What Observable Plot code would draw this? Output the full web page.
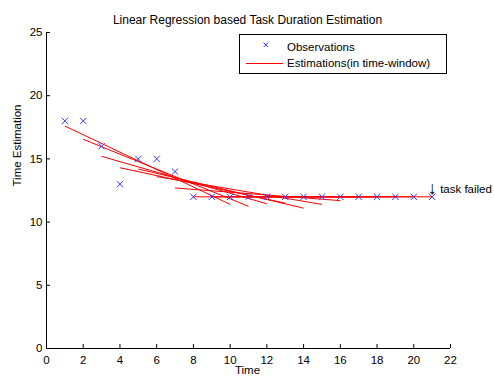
<!DOCTYPE html>
<html>
<head>
<meta charset="utf-8">
<script src="https://cdn.jsdelivr.net/npm/d3@7"></script>
<script src="https://cdn.jsdelivr.net/npm/@observablehq/plot@0.6"></script>
<style>
  body { margin: 0; background: #fff; }
  #wrap { position: relative; width: 494px; height: 378px; font-family: "Liberation Sans", Arial, sans-serif; }
  #legend { position: absolute; left: 239px; top: 34px; width: 206px; height: 38px; border: 1px solid #000; background: #fff; }
  #legend svg { display: block; }
</style>
</head>
<body>
<div id="wrap"></div>
<script>
// Observations
const obsTime  = [1, 2, 3, 4, 5, 6, 7, 8, 9, 10, 11, 12, 13, 14, 15, 16, 17, 18, 19, 20, 21];
const obsValue = [18, 18, 16, 13, 15, 15, 14, 12, 12, 12, 12, 12, 12, 12, 12, 12, 12, 12, 12, 12, 12];

// Estimations (regression lines over time windows): start/end time and value
const segStartTime  = [1, 2, 3, 4, 5, 6, 7, 8, 9, 10, 11, 12];
const segEndTime    = [10, 11, 12, 13, 14, 15, 16, 17, 18, 19, 20, 21];
const segStartValue = [17.6, 16.55, 15.2, 14.3, 14.2, 13.6, 12.7, 12, 12, 12, 12, 12];
const segEndValue   = [11.4, 11.25, 11.45, 11.5, 11.1, 11.4, 11.7, 12, 12, 12, 12, 12];

// Ticks
const xTicks = [0, 2, 4, 6, 8, 10, 12, 14, 16, 18, 20, 22];
const yTicks = [0, 5, 10, 15, 20, 25];

// Texts
const titleText = "Linear Regression based Task Duration Estimation";
const xLabel = "Time";
const yLabel = "Time Estimation";
const legendLabels = ["Observations", "Estimations(in time-window)"];
const annotation = [{time: 21, value: 12.6, text: "task failed"}];

const obs = obsTime.map((t, i) => ({time: t, value: obsValue[i]}));
const segs = segStartTime.map((t, i) => ({x1: t, x2: segEndTime[i], y1: segStartValue[i], y2: segEndValue[i]}));

const W = 494, H = 378, mL = 46, mR = 44, mT = 32, mB = 30;
const font = "Liberation Sans, Arial, sans-serif";
const markerBlue = "#3a3aff";

const chart = Plot.plot({
  width: W, height: H,
  marginLeft: mL, marginRight: mR, marginTop: mT, marginBottom: mB,
  style: {fontFamily: font, fontSize: "11.5px", background: "white", color: "black", overflow: "visible"},
  x: {domain: [0, 22], ticks: xTicks, label: null},
  y: {domain: [0, 25], ticks: yTicks, label: null},
  marks: [
    // inward ticks
    Plot.gridX(xTicks, {stroke: "black", strokeOpacity: 1, insetTop: (H - mT - mB) - 4}),
    Plot.gridY(yTicks, {stroke: "black", strokeOpacity: 1, insetRight: (W - mL - mR) - 4}),
    Plot.ruleX([0], {stroke: "black"}),
    Plot.ruleY([0], {stroke: "black"}),
    Plot.axisX(xTicks, {tickSize: 0, tickPadding: 7, label: null, fill: "black", fontSize: 11.5}),
    Plot.axisY(yTicks, {tickSize: 0, tickPadding: 4, label: null, fill: "black", fontSize: 11.5}),
    Plot.link(segs, {x1: "x1", y1: "y1", x2: "x2", y2: "y2", stroke: "red", strokeWidth: 1}),
    Plot.dot(obs, {x: "time", y: "value", symbol: "times", r: 3, stroke: markerBlue, strokeWidth: 1}),
    Plot.text([titleText], {frameAnchor: "top", dx: -1, dy: -17, text: d => d, fill: "black", fontSize: 12}),
    Plot.text([xLabel], {frameAnchor: "bottom", dx: -1, dy: 25, text: d => d, fill: "black", fontSize: 11.5}),
    Plot.text([yLabel], {frameAnchor: "left", dx: -29, dy: -4, rotate: -90, text: d => d, fill: "black", fontSize: 11.5}),
    Plot.text(annotation, {x: "time", y: "value", text: () => "↓", fill: "black", fontSize: 18, textAnchor: "middle", dy: -1}),
    Plot.text(annotation, {x: "time", y: "value", text: "text", fill: "black", fontSize: 11.5, textAnchor: "start", dx: 8})
  ]
});

const wrap = document.getElementById("wrap");
wrap.appendChild(chart);

// Legend
const legend = document.createElement("div");
legend.id = "legend";
const ns = "http://www.w3.org/2000/svg";
const lsvg = document.createElementNS(ns, "svg");
lsvg.setAttribute("width", 206);
lsvg.setAttribute("height", 38);
lsvg.style.fontFamily = font;
lsvg.style.fontSize = "11.5px";
const mk = (tag, attrs, txt) => {
  const el = document.createElementNS(ns, tag);
  for (const k in attrs) el.setAttribute(k, attrs[k]);
  if (txt) el.textContent = txt;
  lsvg.appendChild(el);
  return el;
};
mk("path", {d: "M23.6,7.6L28,12M28,7.6L23.6,12", stroke: markerBlue, fill: "none", "stroke-width": 1});
mk("text", {x: 47, y: 15.7, fill: "black"}, legendLabels[0]);
mk("line", {x1: 6, x2: 43, y1: 28.5, y2: 28.5, stroke: "red", "stroke-width": 1});
mk("text", {x: 47, y: 32.3, fill: "black"}, legendLabels[1]);
legend.appendChild(lsvg);
wrap.appendChild(legend);
</script>
</body>
</html>
